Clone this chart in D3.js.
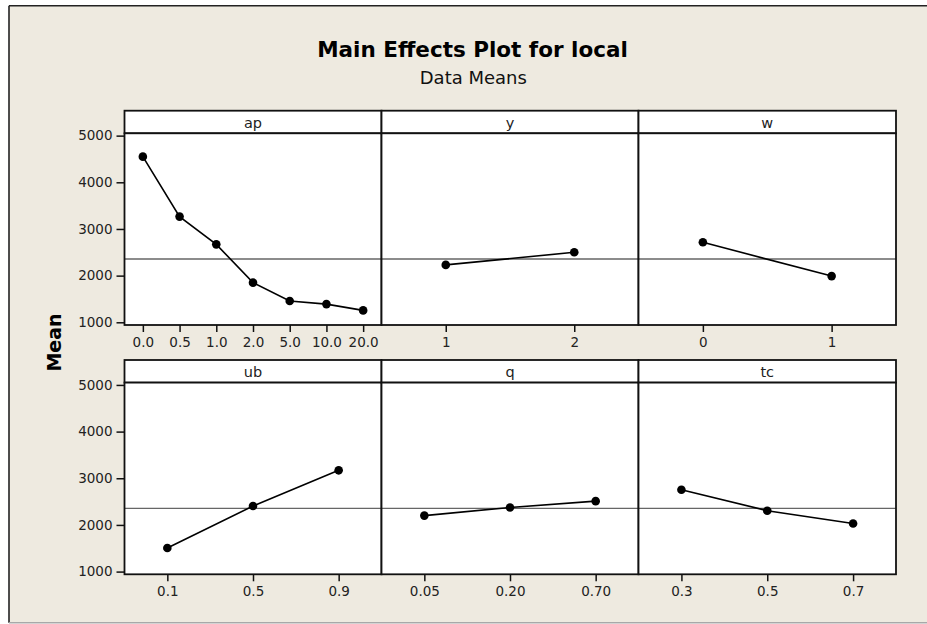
<!DOCTYPE html>
<html>
<head>
<meta charset="utf-8">
<script src="https://cdn.jsdelivr.net/npm/d3@7/dist/d3.min.js"></script>
<style>
  html, body { margin: 0; padding: 0; background: #ffffff; }
  svg { display: block; }
  text { font-family: "DejaVu Sans", Verdana, sans-serif; }
</style>
</head>
<body>
<svg id="chart" width="927" height="624"></svg>
<script>
// ---------------- data ----------------
const factors = ["ap", "y", "w", "ub", "q", "tc"];
const apLevels = ["0.0", "0.5", "1.0", "2.0", "5.0", "10.0", "20.0"];
const apMeans  = [4550, 3265, 2670, 1850, 1455, 1390, 1255];
const yLevels  = ["1", "2"];
const yMeans   = [2230, 2500];
const wLevels  = ["0", "1"];
const wMeans   = [2715, 1990];
const ubLevels = ["0.1", "0.5", "0.9"];
const ubMeans  = [1505, 2405, 3170];
const qLevels  = ["0.05", "0.20", "0.70"];
const qMeans   = [2200, 2375, 2510];
const tcLevels = ["0.3", "0.5", "0.7"];
const tcMeans  = [2755, 2305, 2030];
const yTickValues = [1000, 2000, 3000, 4000, 5000];
const grandMean = 2355;
const titleText = "Main Effects Plot for local";
const subtitleText = "Data Means";
const yAxisLabel = "Mean";

const levelsList = [apLevels, yLevels, wLevels, ubLevels, qLevels, tcLevels];
const meansList  = [apMeans, yMeans, wMeans, ubMeans, qMeans, tcMeans];
const panels = factors.map((f, i) => ({
  name: f,
  levels: levelsList[i],
  points: levelsList[i].map((lv, j) => ({ level: lv, mean: meansList[i][j] }))
}));

// ---------------- layout ----------------
const svg = d3.select("#chart");
const W = 927, H = 624;
const colX = [124.5, 381.5, 638.5, 896];
const rowTop = [110.7, 360];
const headerH = 22.6;
const plotH = 191.7;
const yDomain = [942, 5050];

// background + frame
svg.append("rect").attr("x", 0).attr("y", 0).attr("width", W).attr("height", H).attr("fill", "#ffffff");
svg.append("rect").attr("x", 9).attr("y", 5.7).attr("width", 940).attr("height", 617)
  .attr("fill", "#EEEAE0");
svg.append("line").attr("x1", 9).attr("x2", W).attr("y1", 5.7).attr("y2", 5.7)
  .attr("stroke", "#222").attr("stroke-width", 1.6);
svg.append("line").attr("x1", 9).attr("x2", 9).attr("y1", 5.7).attr("y2", 622.7)
  .attr("stroke", "#222").attr("stroke-width", 1.6);
svg.append("line").attr("x1", 9).attr("x2", W).attr("y1", 622.7).attr("y2", 622.7)
  .attr("stroke", "#a8a8a8").attr("stroke-width", 1.4);

// titles
svg.append("text").attr("x", 472.5).attr("y", 57.3).attr("text-anchor", "middle")
  .attr("font-size", 21.5).attr("font-weight", "bold").attr("fill", "#000")
  .text(titleText);
svg.append("text").attr("x", 473.3).attr("y", 84).attr("text-anchor", "middle")
  .attr("font-size", 18).attr("fill", "#111")
  .text(subtitleText);

// y axis title
svg.append("text")
  .attr("transform", "translate(60.5,342.5) rotate(-90)")
  .attr("text-anchor", "middle")
  .attr("font-size", 19).attr("font-weight", "bold").attr("fill", "#000")
  .text(yAxisLabel);

panels.forEach((p, i) => {
  const row = Math.floor(i / 3), col = i % 3;
  const x0 = colX[col], x1 = colX[col + 1];
  const hTop = rowTop[row];
  const pTop = hTop + headerH;
  const pBot = pTop + plotH;

  const x = d3.scalePoint().domain(p.levels).range([x0, x1]).padding(0.5);
  const y = d3.scaleLinear().domain(yDomain).range([pBot, pTop]);

  const g = svg.append("g");

  // header strip
  g.append("rect").attr("x", x0).attr("y", hTop).attr("width", x1 - x0).attr("height", headerH)
    .attr("fill", "#fff").attr("stroke", "#111").attr("stroke-width", 1.8);
  g.append("text").attr("x", (x0 + x1) / 2).attr("y", pTop - 5.3)
    .attr("text-anchor", "middle").attr("font-size", 14.5).attr("fill", "#222")
    .text(p.name);

  // plot area
  g.append("rect").attr("x", x0).attr("y", pTop).attr("width", x1 - x0).attr("height", plotH)
    .attr("fill", "#fff");

  // reference line (grand mean)
  g.append("line").attr("x1", x0).attr("x2", x1)
    .attr("y1", y(grandMean)).attr("y2", y(grandMean))
    .attr("stroke", "#666").attr("stroke-width", 1.4);

  // x axis
  const xa = g.append("g").attr("transform", `translate(0,${pBot})`)
    .call(d3.axisBottom(x).tickSize(7).tickPadding(5));
  xa.select(".domain").remove();
  xa.selectAll(".tick line").attr("stroke", "#111").attr("stroke-width", 1.5);
  xa.selectAll(".tick text").attr("font-size", 13.5).attr("fill", "#222")
    .attr("font-family", "DejaVu Sans, sans-serif");

  // y axis on the first column
  if (col === 0) {
    const ya = g.append("g").attr("transform", `translate(${x0},0)`)
      .call(d3.axisLeft(y).tickValues(yTickValues).tickSize(8).tickPadding(4).tickFormat(d3.format("d")));
    ya.select(".domain").remove();
    ya.selectAll(".tick line").attr("stroke", "#111").attr("stroke-width", 1.5);
    ya.selectAll(".tick text").attr("font-size", 13.5).attr("fill", "#222")
      .attr("font-family", "DejaVu Sans, sans-serif");
  }

  // data line + points
  const line = d3.line().x(d => x(d.level)).y(d => y(d.mean));
  g.append("path").datum(p.points).attr("d", line)
    .attr("fill", "none").attr("stroke", "#000").attr("stroke-width", 1.6);
  g.selectAll("circle.pt").data(p.points).join("circle").attr("class", "pt")
    .attr("cx", d => x(d.level)).attr("cy", d => y(d.mean)).attr("r", 4.3)
    .attr("fill", "#000");

  // plot frame border
  g.append("rect").attr("x", x0).attr("y", pTop).attr("width", x1 - x0).attr("height", plotH)
    .attr("fill", "none").attr("stroke", "#111").attr("stroke-width", 1.8);
});
</script>
</body>
</html>
